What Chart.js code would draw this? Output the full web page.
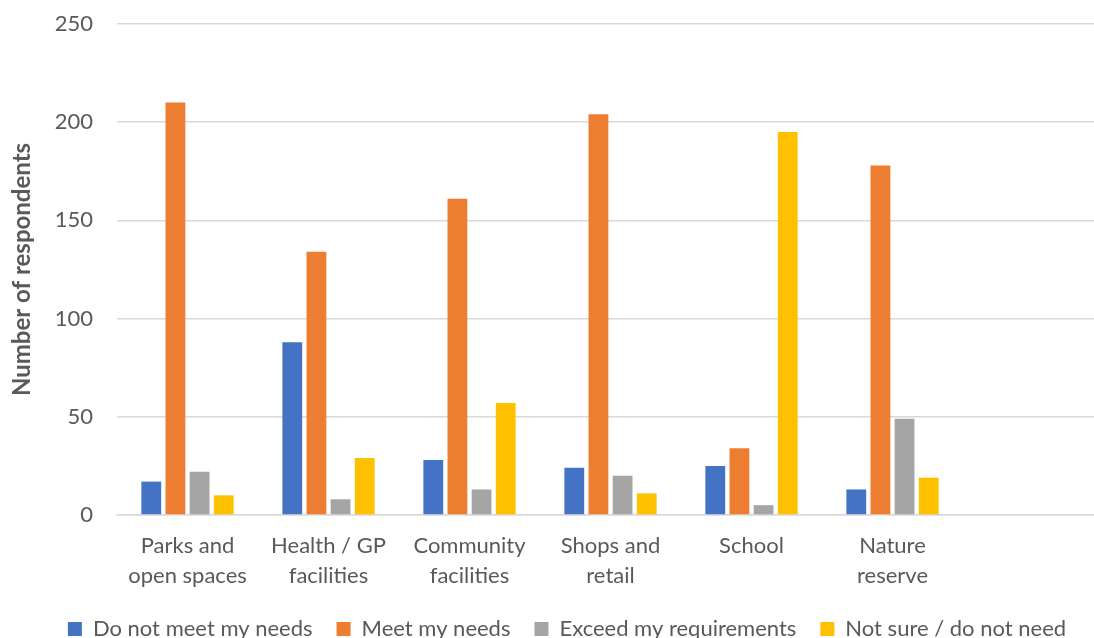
<!DOCTYPE html>
<html>
<head>
<meta charset="utf-8">
<script src="https://cdn.jsdelivr.net/npm/chart.js@4.4.0/dist/chart.umd.min.js"></script>
<style>
  html, body { margin: 0; padding: 0; background: #fff; overflow: hidden; }
  #wrap { width: 1104px; height: 638px; position: relative; }
</style>
</head>
<body>
<div id="wrap"><canvas id="facilities_chart"></canvas></div>
<script>
// categories (last slot is empty in the original)
const categories = [
    ['Parks and', 'open spaces'],
    ['Health / GP', 'facilities'],
    ['Community', 'facilities'],
    ['Shops and', 'retail'],
    ['School'],
    ['Nature', 'reserve'],
    ''
]

const seriesNames = ['Do not meet my needs', 'Meet my needs', 'Exceed my requirements', 'Not sure / do not need']
const doNotMeet = [17, 88, 28, 24, 25, 13, null]
const meetNeeds = [210, 134, 161, 204, 34, 178, null]
const exceed = [22, 8, 13, 20, 5, 49, null]
const notSure = [10, 29, 57, 11, 195, 19, null]

const yTicks = [0, 50, 100, 150, 200, 250]

const colours = ['#4472C4', '#ED7D31', '#A5A5A5', '#FFC000']
const seriesData = [doNotMeet, meetNeeds, exceed, notSure]

const textColour = '#595959'
const fontName = 'Lato, "Open Sans", sans-serif'

// legend in the original sits a bit right of centre
const legendShift = {
    id: 'legendShift',
    afterLayout(chart) {
        chart.legend.left += 11
        chart.legend.right += 11
    }
}

let ctx = document.getElementById('facilities_chart').getContext('2d')

let facilitiesChart = new Chart(ctx, {
    type: 'bar',
    data: {
        labels: categories,
        datasets: seriesNames.map((name, i) => ({
            label: name,
            data: seriesData[i],
            backgroundColor: colours[i],
            borderWidth: 0,
            categoryPercentage: 0.685,
            barPercentage: 0.82
        }))
    },
    plugins: [legendShift],
    options: {
        responsive: true,
        maintainAspectRatio: false,
        animation: false,
        layout: {
            padding: { top: 24, left: 8, right: 0, bottom: -12 }
        },
        plugins: {
            legend: {
                position: 'bottom',
                labels: {
                    color: textColour,
                    font: { family: fontName, size: 22 },
                    boxWidth: 14,
                    boxHeight: 14,
                    padding: 24
                }
            },
            tooltip: { enabled: false }
        },
        scales: {
            x: {
                grid: { display: false, drawTicks: false },
                border: { display: true, color: '#D9D9D9', width: 1.5 },
                ticks: {
                    color: textColour,
                    font: { family: fontName, size: 22, lineHeight: 1.36 },
                    padding: 16,
                    maxRotation: 0,
                    autoSkip: false
                },
                afterFit: scale => { scale.height = 79 }
            },
            y: {
                min: 0,
                max: 250,
                afterBuildTicks: scale => {
                    scale.ticks = yTicks.map(v => ({ value: v }))
                },
                grid: { color: '#D9D9D9', lineWidth: 1.5, drawTicks: false },
                border: { display: false },
                ticks: {
                    color: textColour,
                    font: { family: fontName, size: 22 },
                    padding: 24
                },
                title: {
                    display: true,
                    text: 'Number of respondents',
                    color: textColour,
                    font: { family: fontName, size: 24, weight: 'bold' },
                    padding: 0
                },
                afterFit: scale => {
                    scale.width = 109
                    scale.paddingTop = 0
                    scale.paddingBottom = 0
                }
            }
        }
    }
})
</script>
</body>
</html>
